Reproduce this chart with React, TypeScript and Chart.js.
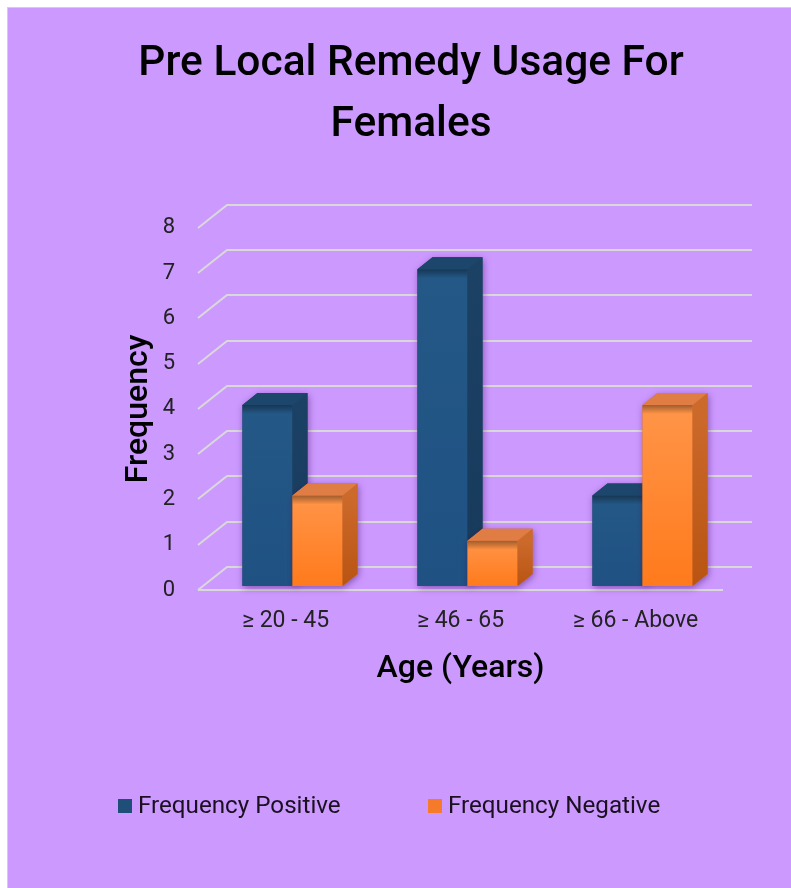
import { useEffect, useRef } from "react";
import { Chart, registerables } from "chart.js";

Chart.register(...registerables);

// ---- data ----
const categories = ["≥ 20 - 45", "≥ 46 - 65", "≥ 66 - Above"];
const positiveValues = [4, 7, 2];
const negativeValues = [2, 1, 4];
const seriesNames = ["Frequency Positive", "Frequency Negative"];
const yTickValues = [0, 1, 2, 3, 4, 5, 6, 7, 8];
const titleLines = ["Pre Local Remedy Usage For", "Females"];
const xAxisTitle = "Age (Years)";
const yAxisTitle = "Frequency";

// ---- styling ----
const FONT = "Roboto";
const PANEL_BG = "#cc99ff";
const GRID_COLOR = "#d9d9d9";
// depth of the floor / back wall projection
const FLOOR_DX = 29;
const FLOOR_DY = 23;
// depth of each box and where it sits inside the floor
const BAR_DX = 15;
const BAR_DY = 12;
const BAR_SHIFT_X = 7;
const BAR_SHIFT_Y = 4;

type Shade = { frontTop: string; frontBottom: string; side: string; sideBottom: string; top: string; swatch: string };
const shades: Shade[] = [
  { frontTop: "#245886", frontBottom: "#1f5283", side: "#1b4165", sideBottom: "#173a5b", top: "#1d466c", swatch: "#1f4e79" },
  { frontTop: "#ff9549", frontBottom: "#ff7a1c", side: "#cc6a2c", sideBottom: "#b95412", top: "#e07d45", swatch: "#f57a2a" },
];

const gridPlugin = {
  id: "floorGrid",
  beforeDatasetsDraw(chart: any) {
    const { ctx, chartArea, scales } = chart;
    const y = scales.y;
    ctx.save();
    ctx.strokeStyle = GRID_COLOR;
    ctx.lineWidth = 2;
    y.ticks.forEach((t: any) => {
      const py = Math.round(y.getPixelForValue(t.value));
      ctx.beginPath();
      ctx.moveTo(chartArea.left, py);
      ctx.lineTo(chartArea.left + FLOOR_DX, py - FLOOR_DY);
      ctx.lineTo(chartArea.right + FLOOR_DX, py - FLOOR_DY);
      ctx.stroke();
    });
    const p0 = Math.round(y.getPixelForValue(0));
    ctx.beginPath();
    ctx.moveTo(chartArea.left, p0);
    ctx.lineTo(chartArea.right, p0);
    ctx.stroke();
    ctx.restore();
  },
};

function drawBox(ctx: CanvasRenderingContext2D, bar: any, s: Shade) {
  const x0 = bar.x - bar.width / 2 + BAR_SHIFT_X;
  const x1 = bar.x + bar.width / 2 + BAR_SHIFT_X;
  const top = bar.y - BAR_SHIFT_Y;
  const bottom = bar.base - BAR_SHIFT_Y;

  // soft drop shadow of the whole silhouette
  ctx.save();
  ctx.shadowColor = "rgba(50, 0, 80, 0.45)";
  ctx.shadowBlur = 7;
  ctx.shadowOffsetX = 1;
  ctx.shadowOffsetY = 2;
  ctx.fillStyle = s.side;
  ctx.beginPath();
  ctx.moveTo(x0, bottom);
  ctx.lineTo(x0, top);
  ctx.lineTo(x0 + BAR_DX, top - BAR_DY);
  ctx.lineTo(x1 + BAR_DX, top - BAR_DY);
  ctx.lineTo(x1 + BAR_DX, bottom - BAR_DY);
  ctx.lineTo(x1, bottom);
  ctx.closePath();
  ctx.fill();
  ctx.restore();

  // front face
  const fg = ctx.createLinearGradient(0, top, 0, bottom);
  fg.addColorStop(0, s.frontTop);
  fg.addColorStop(1, s.frontBottom);
  ctx.fillStyle = fg;
  ctx.fillRect(x0, top, x1 - x0, bottom - top);

  // inner shading just under the top edge
  const sh = ctx.createLinearGradient(0, top, 0, top + 9);
  sh.addColorStop(0, "rgba(0,0,0,0.38)");
  sh.addColorStop(1, "rgba(0,0,0,0)");
  ctx.fillStyle = sh;
  ctx.fillRect(x0, top, x1 - x0, 9);

  // right side face
  const sg = ctx.createLinearGradient(0, top, 0, bottom);
  sg.addColorStop(0, s.side);
  sg.addColorStop(1, s.sideBottom);
  ctx.fillStyle = sg;
  ctx.beginPath();
  ctx.moveTo(x1, top);
  ctx.lineTo(x1 + BAR_DX, top - BAR_DY);
  ctx.lineTo(x1 + BAR_DX, bottom - BAR_DY);
  ctx.lineTo(x1, bottom);
  ctx.closePath();
  ctx.fill();

  // top face
  ctx.fillStyle = s.top;
  ctx.beginPath();
  ctx.moveTo(x0, top);
  ctx.lineTo(x0 + BAR_DX, top - BAR_DY);
  ctx.lineTo(x1 + BAR_DX, top - BAR_DY);
  ctx.lineTo(x1, top);
  ctx.closePath();
  ctx.fill();
}

const boxPlugin = {
  id: "boxes3d",
  beforeDatasetDraw() {
    return false;
  },
  afterDatasetsDraw(chart: any) {
    const { ctx } = chart;
    const metas = chart.data.datasets.map((_: any, i: number) => chart.getDatasetMeta(i));
    ctx.save();
    for (let c = 0; c < categories.length; c++) {
      metas.forEach((meta: any, d: number) => {
        const bar = meta.data[c];
        if (bar) drawBox(ctx, bar, shades[d]);
      });
    }
    ctx.restore();
  },
};

const legendPlugin = {
  id: "bottomLegend",
  afterDraw(chart: any) {
    const { ctx, chartArea } = chart;
    const cy = chartArea.bottom + 216;
    const starts = [chartArea.left - 80, chartArea.left + 230];
    ctx.save();
    ctx.font = `24.2px ${FONT}`;
    ctx.textBaseline = "middle";
    ctx.textAlign = "left";
    chart.data.datasets.forEach((ds: any, i: number) => {
      const x = starts[i];
      ctx.fillStyle = shades[i].swatch;
      ctx.fillRect(x, cy - 7, 14, 14);
      ctx.fillStyle = "#1a1020";
      ctx.fillText(ds.label, x + 20, cy + 1);
    });
    ctx.restore();
  },
};

export default function App() {
  const ref = useRef<HTMLCanvasElement | null>(null);

  useEffect(() => {
    document.body.style.overflow = "hidden";
    const canvas = ref.current;
    if (!canvas) return;
    const chart = new Chart(canvas, {
      type: "bar",
      data: {
        labels: categories,
        datasets: [
          { label: seriesNames[0], data: positiveValues, backgroundColor: shades[0].swatch },
          { label: seriesNames[1], data: negativeValues, backgroundColor: shades[1].swatch },
        ],
      },
      options: {
        animation: false,
        responsive: false,
        devicePixelRatio: 1,
        datasets: { bar: { categoryPercentage: 0.572, barPercentage: 1 } },
        layout: { padding: { left: 91, right: 68, top: 0, bottom: 196 } },
        plugins: {
          legend: { display: false },
          tooltip: { enabled: false },
          title: {
            display: true,
            text: titleLines,
            color: "#000",
            font: { family: FONT, size: 42.5, weight: "500", lineHeight: 1.435 },
            padding: { top: 26, bottom: 72 },
          },
        },
        scales: {
          x: {
            type: "category",
            grid: { display: false, drawTicks: false },
            border: { display: false },
            ticks: { color: "#222", font: { family: FONT, size: 23 }, padding: 17, maxRotation: 0 },
            title: {
              display: true,
              text: xAxisTitle,
              color: "#000",
              font: { family: FONT, size: 32, weight: "500", lineHeight: 1.2 },
              padding: { top: 18, bottom: 4 },
            },
            afterFit: (s: any) => {
              s.height = 102;
            },
          },
          y: {
            min: 0,
            max: 8,
            grid: { display: false, drawTicks: false },
            border: { display: false },
            afterBuildTicks: (s: any) => {
              s.ticks = yTickValues.map((v) => ({ value: v }));
            },
            ticks: { color: "#222", font: { family: FONT, size: 22 }, padding: 23 },
            title: {
              display: true,
              text: yAxisTitle,
              color: "#000",
              font: { family: FONT, size: 32, weight: "500", lineHeight: 1.2 },
              padding: { top: 21, bottom: 6 },
            },
            afterFit: (s: any) => {
              s.width = 99;
            },
          },
        },
      },
      plugins: [gridPlugin, boxPlugin, legendPlugin],
    });
    return () => chart.destroy();
  }, []);

  return (
    <div
      style={{
        position: "fixed",
        left: 7,
        top: 7,
        width: 784,
        height: 881,
        boxSizing: "border-box",
        background: PANEL_BG,
        borderLeft: "1px solid #d6cce0",
        borderTop: "1px solid #d6cce0",
      }}
    >
      <canvas ref={ref} width={783} height={880} style={{ display: "block" }} />
    </div>
  );
}
